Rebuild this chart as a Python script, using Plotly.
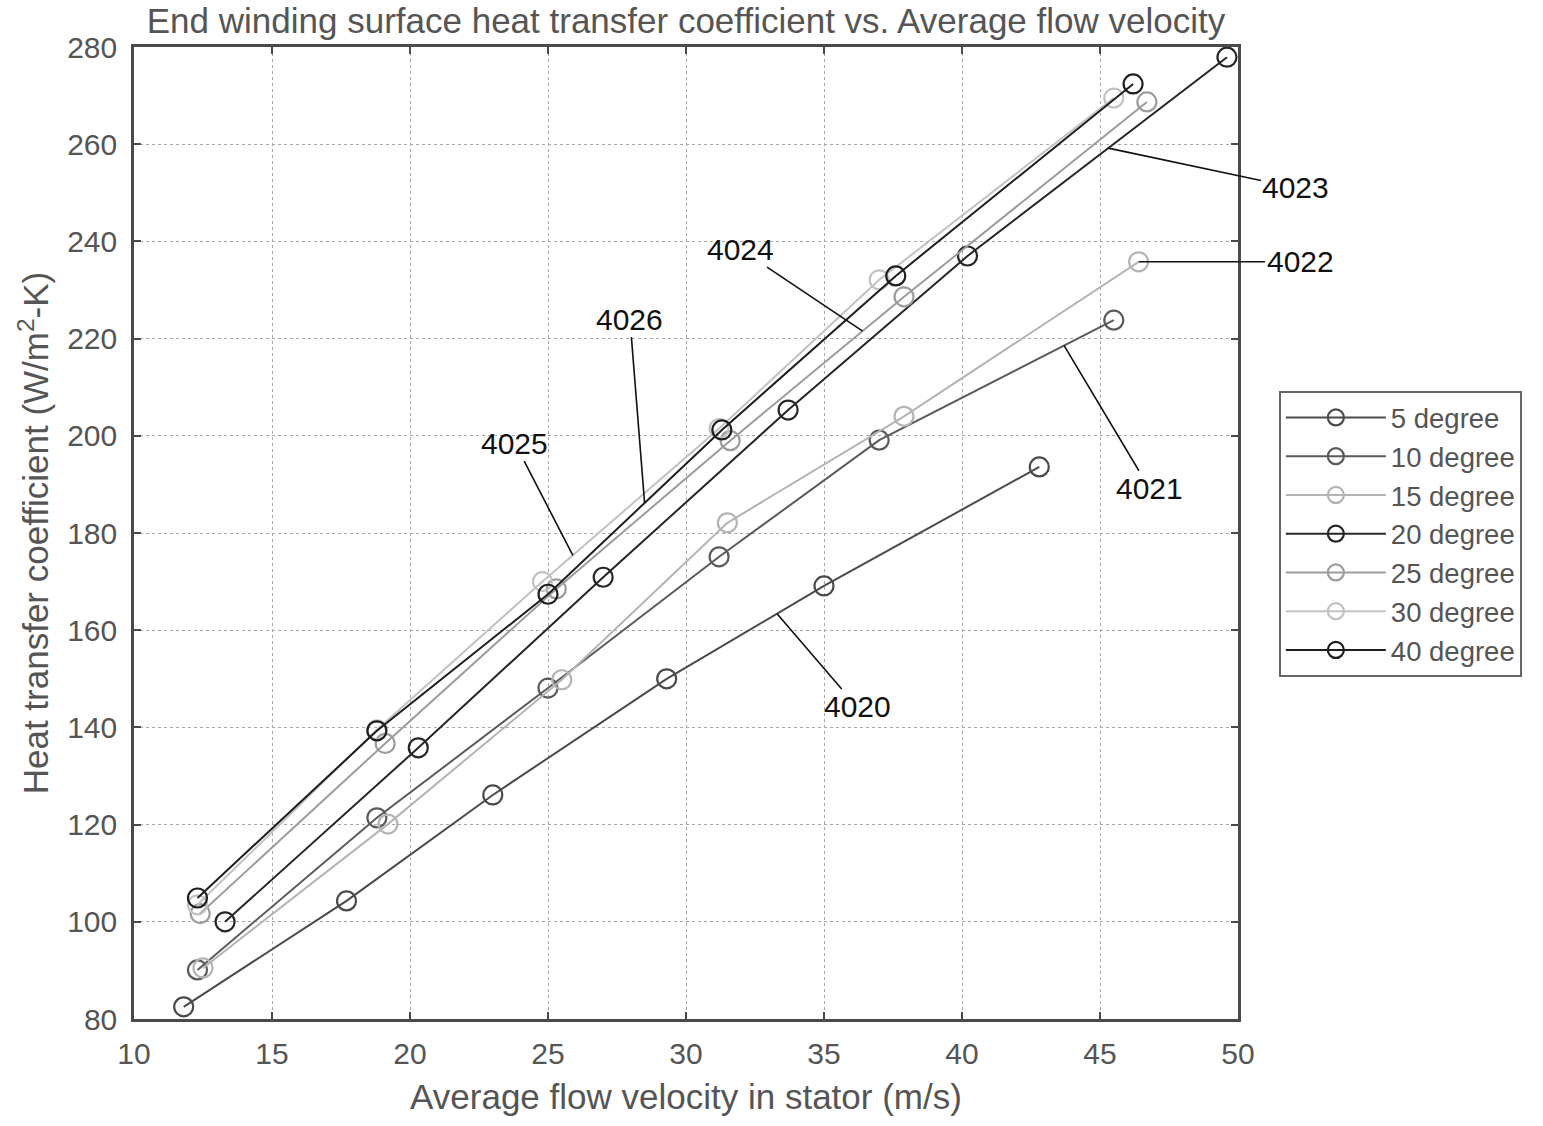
import numpy as np
import plotly.graph_objects as go

# Measured heat transfer coefficient vs. average stator flow velocity, per end-winding angle
names = ["5 degree", "10 degree", "15 degree", "20 degree", "25 degree", "30 degree", "40 degree"]

v_5 = [11.8, 17.7, 23.0, 29.3, 35.0, 42.8]
h_5 = [82.5, 104.3, 126.1, 150.0, 169.1, 193.6]

v_10 = [12.3, 18.8, 25.0, 31.2, 37.0, 45.5]
h_10 = [90.1, 121.4, 148.1, 175.1, 199.1, 223.8]

v_15 = [12.5, 19.2, 25.5, 31.5, 37.9, 46.4]
h_15 = [90.5, 120.1, 149.8, 182.1, 204.0, 235.8]

v_20 = [13.3, 20.3, 27.0, 33.7, 40.2, 49.6]
h_20 = [100.0, 135.8, 170.9, 205.3, 237.0, 277.9]

v_25 = [12.4, 19.1, 25.3, 31.6, 37.9, 46.7]
h_25 = [101.7, 136.7, 168.5, 199.0, 228.6, 268.7]

v_30 = [12.3, 18.8, 24.8, 31.2, 37.0, 45.5]
h_30 = [103.5, 139.5, 170.0, 201.5, 232.1, 269.5]

v_40 = [12.3, 18.8, 25.0, 31.3, 37.6, 46.2]
h_40 = [104.9, 139.3, 167.4, 201.2, 232.9, 272.4]

velocities = [v_5, v_10, v_15, v_20, v_25, v_30, v_40]
coefficients = [h_5, h_10, h_15, h_20, h_25, h_30, h_40]
colors = ["#4a4a4a", "#5a5a5a", "#b4b4b4", "#262626", "#9c9c9c", "#c2c2c2", "#1e1e1e"]

# Reference numerals: (label, series index, velocity on the curve, label position)
callouts = [
    ("4020", 0, 33.3, 36.2, 144.2),
    ("4021", 1, 43.7, 46.8, 189.1),
    ("4022", 2, 46.4, 52.25, 235.8),
    ("4023", 3, 45.3, 52.1, 251.0),
    ("4024", 4, 36.4, 31.96, 238.4),
    ("4025", 5, 25.9, 23.8, 198.5),
    ("4026", 6, 28.5, 27.97, 224.0),
]

x_ticks = list(range(10, 51, 5))
y_ticks = list(range(80, 281, 20))

FONT = "Liberation Sans, Arial, sans-serif"

fig = go.Figure()
for name, vx, hy, col in zip(names, velocities, coefficients, colors):
    fig.add_trace(go.Scatter(
        x=vx, y=hy, name=name, mode="lines+markers",
        line=dict(color=col, width=2),
        marker=dict(symbol="circle-open", size=19, color=col, line=dict(width=2.2, color=col)),
        cliponaxis=False,
    ))

for label, idx, vx, lx, ly in callouts:
    hy = float(np.interp(vx, velocities[idx], coefficients[idx]))
    if label == "4022":
        ly = hy
    fig.add_annotation(
        x=vx, y=hy, xref="x", yref="y",
        ax=lx, ay=ly, axref="x", ayref="y",
        text=label, showarrow=True, arrowhead=0, arrowwidth=1.6, arrowcolor="#111",
        font=dict(family=FONT, size=30, color="#111"),
    )

axis_common = dict(
    showgrid=True, gridcolor="#a8a8a8", gridwidth=1.2, griddash="dot",
    showline=True, linecolor="#4a4a4a", linewidth=2.5, mirror="ticks",
    ticks="inside", ticklen=7, tickcolor="#4a4a4a", tickwidth=1.5,
    tickfont=dict(family=FONT, size=30, color="#555"),
    zeroline=False,
)

fig.update_xaxes(
    range=[10, 50], tickvals=x_ticks, ticklabelstandoff=6, **axis_common,
    title=dict(text="Average flow velocity in stator (m/s)",
               font=dict(family=FONT, size=35, color="#555"),
               standoff=16),
)
fig.update_yaxes(
    range=[80, 280], tickvals=y_ticks, ticklabelstandoff=8, **axis_common,
    title=dict(text="Heat transfer coefficient (W/m<sup>2</sup>-K)",
               font=dict(family=FONT, size=35, color="#555"),
               standoff=8),
)

fig.update_layout(
    width=1543, height=1126,
    margin=dict(l=134, r=305, t=47, b=107),
    paper_bgcolor="white", plot_bgcolor="white",
    title=dict(text="End winding surface heat transfer coefficient vs. Average flow velocity",
               x=(134 + 1104 / 2) / 1543, xanchor="center", y=1 - 21 / 1126, yanchor="middle",
               yref="container",
               font=dict(family=FONT, size=35, color="#555")),
    legend=dict(
        x=1.037, y=0.646, xanchor="left", yanchor="top",
        bgcolor="white", bordercolor="#666", borderwidth=2,
        font=dict(family=FONT, size=27.5, color="#555"),
        itemwidth=100, tracegroupgap=0,
    ),
    showlegend=True,
)

fig.write_html("out.html")
